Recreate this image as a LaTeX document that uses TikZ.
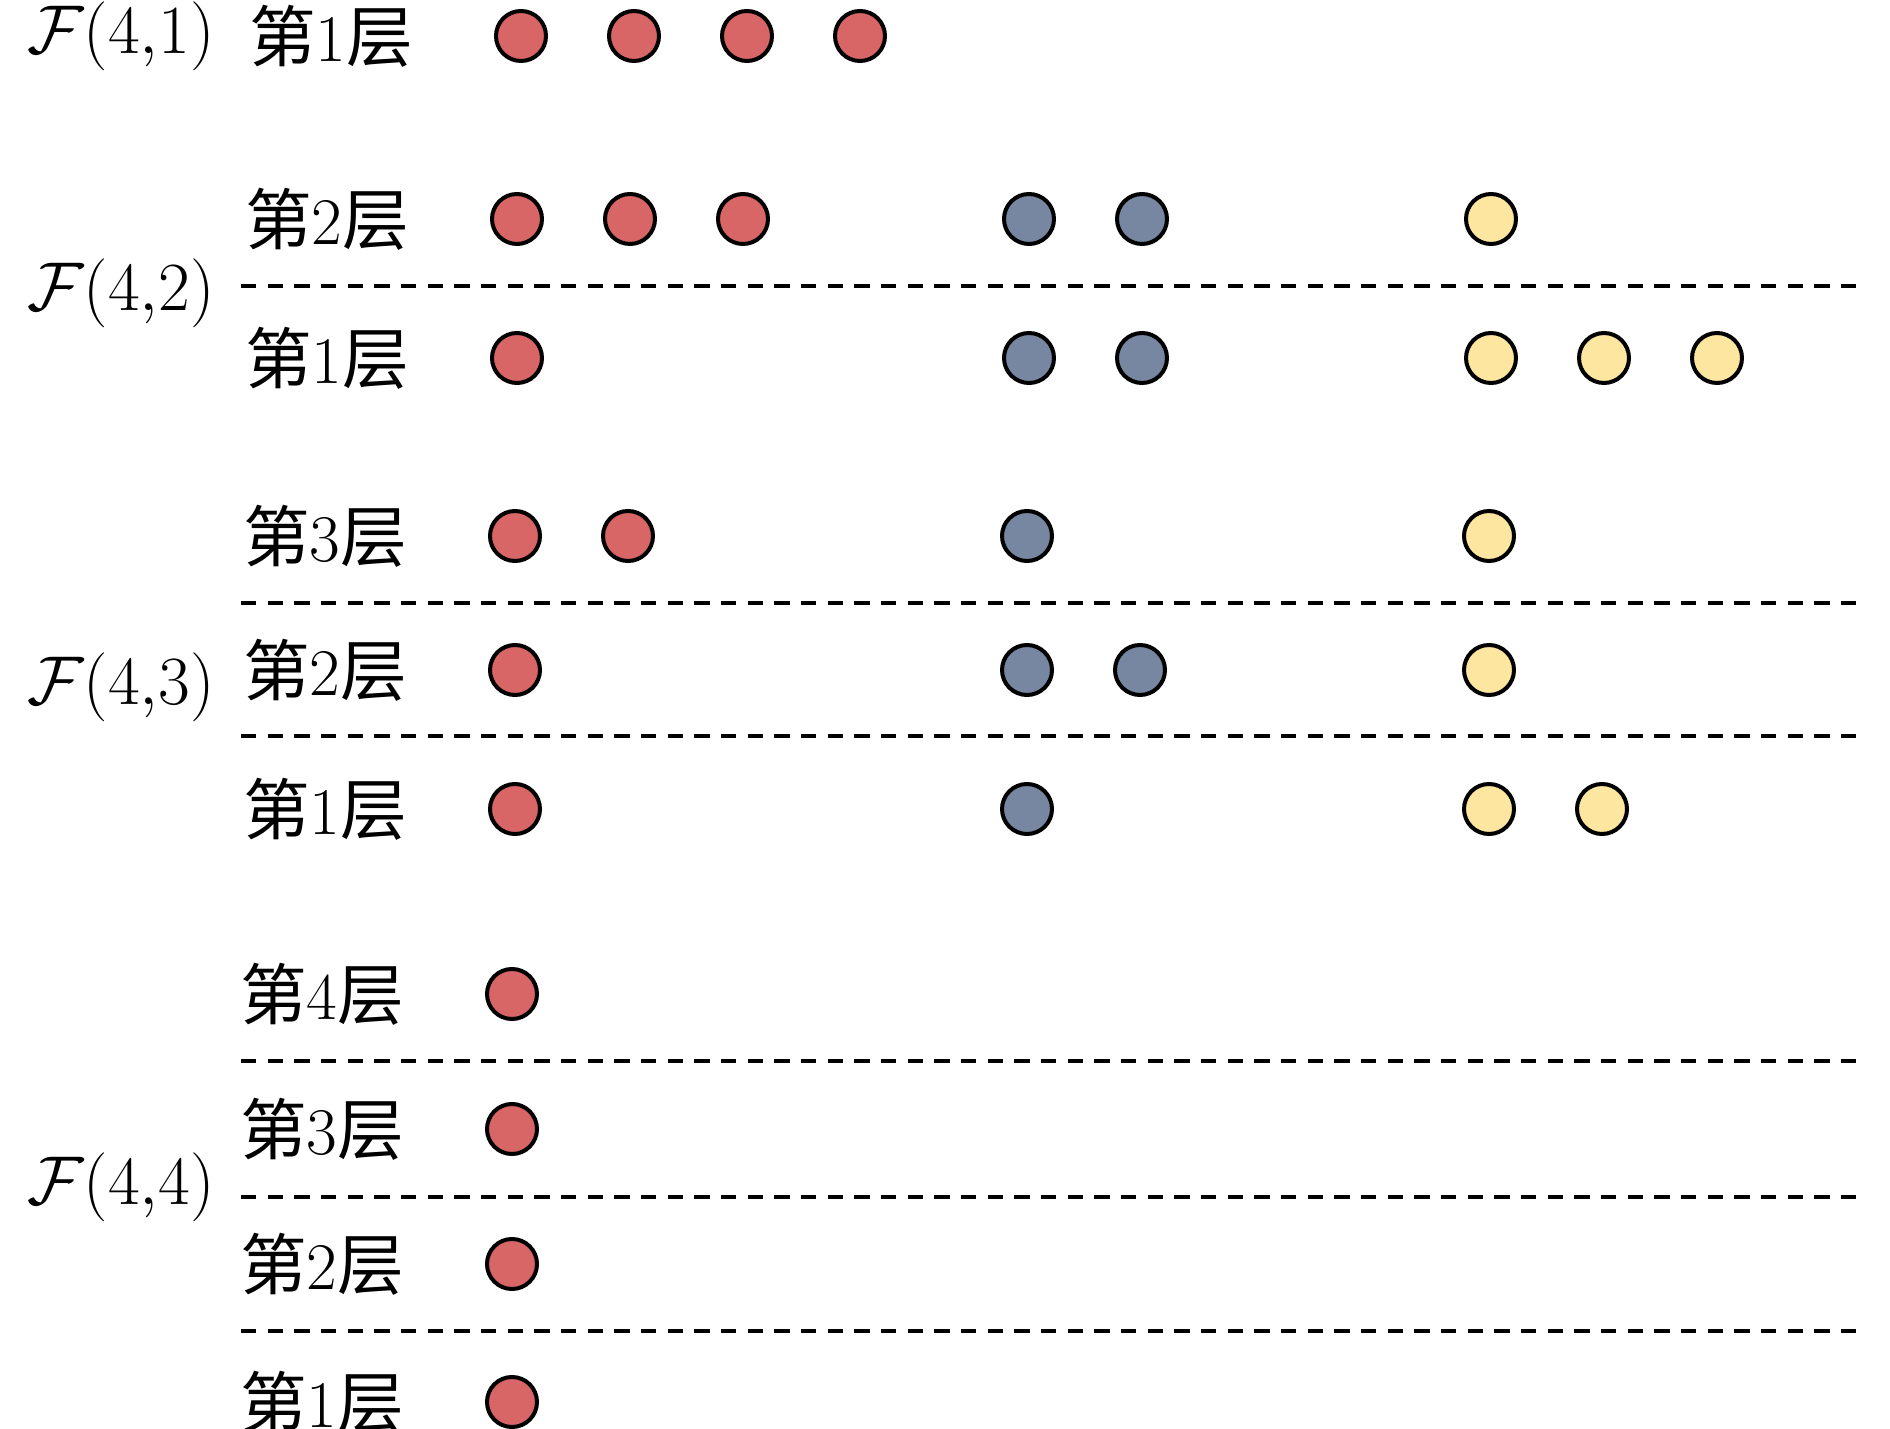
\RequirePackage{fix-cm}
\documentclass[tikz,border=0pt]{standalone}
\usepackage{fontspec}
\newfontfamily\cjk{Noto Sans CJK SC}
\definecolor{cred}{HTML}{D96666}
\definecolor{cblue}{HTML}{7787A1}
\definecolor{cyel}{HTML}{FDE6A0}
\begin{document}
\begin{tikzpicture}[x=0.3pt,y=-0.3pt,
  lab/.style={inner sep=0pt,font=\fontsize{20}{20}\selectfont},
  flab/.style={inner sep=0pt,font=\fontsize{20.7}{20.7}\selectfont},
  dot/.style={circle,draw=black,line width=1.2pt,minimum size=15pt,inner sep=0pt},
  sep/.style={line width=1.3pt,dash pattern=on 4.6pt off 3.4pt}]
\useasboundingbox (0,0) rectangle (1890,1429);
\foreach \r/\n/\y/\nr/\nb/\ny/\dx in {a1/1/36/4/0/0/4, b2/2/219/3/2/1/0, b1/1/358/1/2/3/0, c3/3/536/2/1/1/-2, c2/2/670/1/2/1/-2, c1/1/809/1/1/2/-2, d4/4/994/1/0/0/-5, d3/3/1129/1/0/0/-5, d2/2/1264/1/0/0/-5, d1/1/1402/1/0/0/-5}{
  \node[lab] (lab-\r) at (327+\dx,\y) {{\cjk 第}\n{\cjk 层}};
  \foreach \k in {1,2,3,4}{
    \ifnum\k>\nr\else \node[dot,fill=cred] (\r-r\k) at ({517+\dx+113*(\k-1)},\y) {};\fi
    \ifnum\k>\nb\else \node[dot,fill=cblue] (\r-b\k) at ({1029+\dx+113*(\k-1)},\y) {};\fi
    \ifnum\k>\ny\else \node[dot,fill=cyel] (\r-y\k) at ({1491+\dx+113*(\k-1)},\y) {};\fi
  }
}
\node[flab] (F1) at (121,36) {$\mathcal{F}(4{,}1)$};
\node[flab] (F2) at (121,293) {$\mathcal{F}(4{,}2)$};
\node[flab] (F3) at (121,687) {$\mathcal{F}(4{,}3)$};
\node[flab] (F4) at (121,1187) {$\mathcal{F}(4{,}4)$};
\foreach \s/\y in {s1/286, s2/603, s3/736, s4/1061, s5/1197, s6/1331}{
  \coordinate (\s-l) at (241,\y);
  \coordinate (\s-r) at (1856,\y);
  \draw[sep] (\s-l) -- (\s-r);
}
\end{tikzpicture}
\end{document}
